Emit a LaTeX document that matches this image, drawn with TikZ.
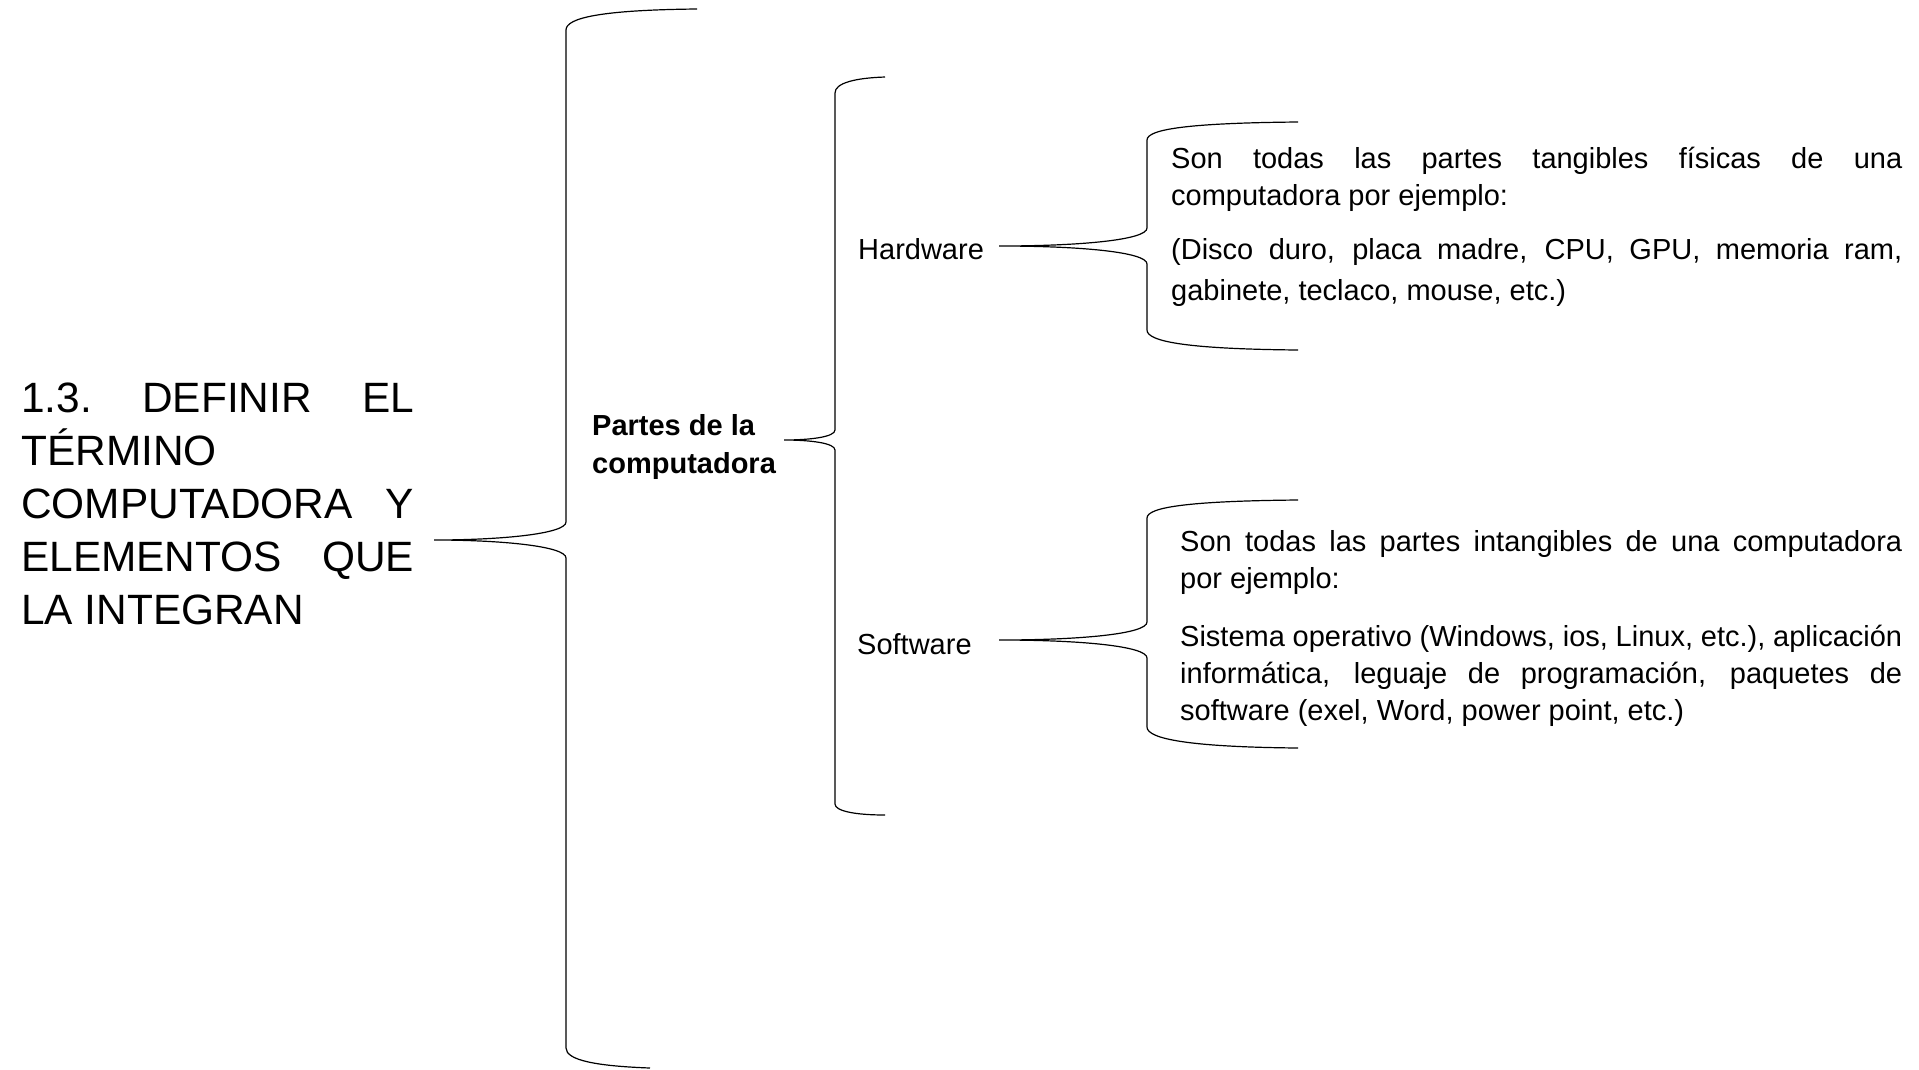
\documentclass[tikz,border=0pt]{standalone}
\usepackage{fontspec}
\setmainfont{Liberation Sans}

\tikzset{
    llave/.style={line width=1.2pt, black},
    titulo/.style={anchor=base west, inner sep=0pt, font=\fontsize{42.4}{53}\selectfont},
    texto/.style={anchor=base west, inner sep=0pt, font=\fontsize{29}{37}\selectfont},
    negrita/.style={anchor=base west, inner sep=0pt, font=\bfseries\fontsize{29}{38}\selectfont}
}

\begin{document}
\begin{tikzpicture}[x=1pt,y=-1pt]
    \fill[white] (0,0) rectangle (1919,1069);
    \useasboundingbox (0,0) rectangle (1919,1069);

    % textos
    \node[titulo] (titulo) at (21,412) {\parbox[t]{393pt}{\frenchspacing\tolerance=10000 \hbadness=10000
        1.3. DEFINIR EL\linebreak TÉRMINO\newline COMPUTADORA Y\linebreak ELEMENTOS QUE\linebreak LA INTEGRAN}};
    \node[negrita] (partes) at (592,435) {\parbox[t]{200pt}{\raggedright Partes de la\\computadora}};
    \node[texto] (hardware) at (858,259) {Hardware};
    \node[texto] (software) at (857,654) {Software};
    \node[texto] (hwtexto) at (1171,168) {\parbox[t]{731pt}{\tolerance=10000 \hbadness=10000 \setlength{\parskip}{13pt}
        Son todas las partes tangibles físicas de una\linebreak computadora por ejemplo:\par
        \fontsize{29}{41}\selectfont
        (Disco duro, placa madre, CPU, GPU, memoria ram,\linebreak gabinete, teclaco, mouse, etc.)}};
    \node[texto] (swtexto) at (1180,551) {\parbox[t]{722pt}{\tolerance=10000 \hbadness=10000 \setlength{\parskip}{21pt}
        Son todas las partes intangibles de una computadora\linebreak por ejemplo:\par
        Sistema operativo (Windows, ios, Linux, etc.), aplicación\linebreak informática, leguaje de programación, paquetes de\linebreak software (exel, Word, power point, etc.)}};

    % puntas y extremos de las llaves
    \coordinate (p1) at (434,540);
    \coordinate (p1a) at (697,9);
    \coordinate (p1b) at (650,1068);
    \coordinate (p2) at (784,440);
    \coordinate (p2a) at (885,77);
    \coordinate (p2b) at (885,815);
    \coordinate (p3) at (999,246);
    \coordinate (p3a) at (1298,122);
    \coordinate (p3b) at (1298,350);
    \coordinate (p4) at (999,640);
    \coordinate (p4a) at (1298,500);
    \coordinate (p4b) at (1298,748);

    % llaves
    \draw[llave] (p1a) .. controls (600,10) and (566,18) .. (566,30) -- (566,522)
        .. controls (566,534) and (500,540) .. (p1) .. controls (500,540) and (566,546) .. (566,558)
        -- (566,1048) .. controls (566,1060) and (595,1066) .. (p1b);
    \draw[llave] (p2a) .. controls (855,78) and (835,83) .. (835,93) -- (835,430)
        .. controls (835,437) and (810,440) .. (p2) .. controls (810,440) and (835,443) .. (835,450)
        -- (835,804) .. controls (835,811) and (855,815) .. (p2b);
    \draw[llave] (p3a) .. controls (1190,123) and (1147,129) .. (1147,140) -- (1147,228)
        .. controls (1147,240) and (1080,246) .. (p3) .. controls (1080,246) and (1147,252) .. (1147,264)
        -- (1147,330) .. controls (1147,342) and (1190,349) .. (p3b);
    \draw[llave] (p4a) .. controls (1190,501) and (1147,507) .. (1147,518) -- (1147,622)
        .. controls (1147,634) and (1080,640) .. (p4) .. controls (1080,640) and (1147,646) .. (1147,658)
        -- (1147,727) .. controls (1147,739) and (1190,747) .. (p4b);
\end{tikzpicture}
\end{document}
